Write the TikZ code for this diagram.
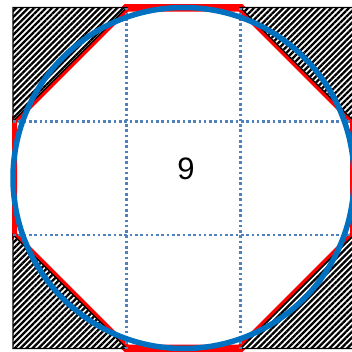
\documentclass[tikz,border=0pt]{standalone}
\usepackage{fontspec}
\setmainfont{Liberation Sans}
\usetikzlibrary{patterns.meta}
\definecolor{circblue}{HTML}{0070C0}
\definecolor{gridblue}{HTML}{4F81BD}
\tikzset{
  hatchtri/.style={preaction={fill=white}, pattern={Lines[angle=45,distance=4.2pt,line width=2.3pt]}, draw=black, line width=1.3pt, line join=miter},
  octa/.style={draw=red, line width=8pt, line join=miter},
  gridline/.style={draw=gridblue, line width=2.6pt, dash pattern=on 2.6pt off 2.7pt},
  circ/.style={draw=circblue, line width=5.5pt}
}
\begin{document}
\begin{tikzpicture}[x=1pt,y=-1pt]
\useasboundingbox (0,0) rectangle (352,351);
\fill[white] (0,0) rectangle (352,351);
% red octagon
\begin{scope}
\clip (12,4) rectangle (356,352);
\draw[octa] (126.7,7.5) -- (240.3,7.5) -- (354,121.2) -- (354,234.8) -- (240.3,348.5) -- (126.7,348.5) -- (13,234.8) -- (13,121.2) -- cycle;
\end{scope}
% hatched corners
\draw[hatchtri] (13,7.5) -- (126.7,7.5) -- (13,121.2) -- cycle;
\draw[hatchtri] (240.3,7.5) -- (354,7.5) -- (354,121.2) -- cycle;
\draw[hatchtri] (13,234.8) -- (13,348.5) -- (126.7,348.5) -- cycle;
\draw[hatchtri] (354,234.8) -- (354,348.5) -- (240.3,348.5) -- cycle;
% dotted grid
\draw[gridline] (126.7,7.5) -- (126.7,348.5);
\draw[gridline] (240.3,7.5) -- (240.3,348.5);
\draw[gridline] (13,121.2) -- (354,121.2);
\draw[gridline] (13,234.8) -- (354,234.8);
% circle
\draw[circ] (183.5,178) circle[radius=170.5];
% label
\node[font=\fontsize{31}{31}\selectfont, inner sep=0pt] (nine) at (186,168.5) {9};
\end{tikzpicture}
\end{document}
